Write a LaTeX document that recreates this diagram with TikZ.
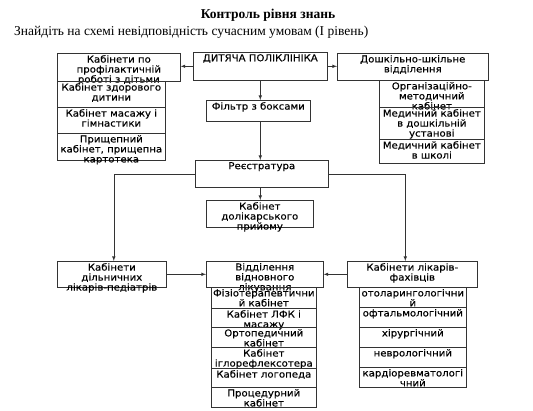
\documentclass[tikz,border=0pt]{standalone}
\usepackage{fontspec}
\setmainfont{Liberation Serif}
\newfontfamily\cabfont{DejaVu Sans}[FakeStretch=1.07, FakeBold=0.4]
\usetikzlibrary{arrows,positioning}
\tikzset
{
    cab/.style     = {draw=black!80, line width=0.6pt, anchor=north west, inner sep=0pt},
    cabtext/.style = {anchor=north, align=center, inner sep=2pt, font={\cabfont\fontsize{9.5}{10}\selectfont}},
    link/.style    = {draw=black!80, line width=0.6pt, -latex}
}
\begin{document}
\begin{tikzpicture}[x=1pt, y=-1pt]
\useasboundingbox (0,0) rectangle (533,410);
\node[font={\bfseries\fontsize{13.5}{15}\selectfont}] (title) at (268,15) {Контроль рівня знань};
\node[anchor=west, inner sep=0pt, font={\fontsize{13.5}{15}\selectfont}] (task) at (14,32) {Знайдіть на схемі невідповідність сучасним умовам (І рівень)};
% main chain
\node[cab, minimum width=134pt, minimum height=28pt] (dp) at (193,52) {};
\node[cabtext] (dp-t) at (dp.north) {ДИТЯЧА ПОЛІКЛІНІКА};
\node[cab, minimum width=104pt, minimum height=21pt] (filtr) at (206,100) {};
\node[cabtext] (filtr-t) at (filtr.north) {Фільтр з боксами};
\node[cab, minimum width=133pt, minimum height=27pt] (reestr) at (195,160) {};
\node[cabtext] (reestr-t) at (reestr.north) {Реєстратура};
\node[cab, minimum width=107pt, minimum height=27pt] (dolik) at (206,200) {};
\node[cabtext] (dolik-t) at (dolik.north) {Кабінет\\долікарського\\прийому};
% left column
\node[cab, minimum width=123pt, minimum height=28pt] (prof) at (57,53) {};
\node[cabtext] (prof-t) at (prof.north) {Кабінети по\\профілактичній\\роботі з дітьми};
\node[cab, minimum width=108pt, minimum height=26pt] (zdor) at (57,81) {};
\node[cabtext] (zdor-t) at (zdor.north) {Кабінет здорового\\дитини};
\node[cab, minimum width=108pt, minimum height=26pt] (masazh) at (57,107) {};
\node[cabtext] (masazh-t) at (masazh.north) {Кабінет масажу і\\гімнастики};
\node[cab, minimum width=108pt, minimum height=27pt] (shchep) at (57,133) {};
\node[cabtext] (shchep-t) at (shchep.north) {Прищепний\\кабінет, прищепна\\картотека};
% right column
\node[cab, minimum width=151pt, minimum height=27pt] (doshk) at (337,53) {};
\node[cabtext] (doshk-t) at (doshk.north) {Дошкільно-шкільне\\відділення};
\node[cab, minimum width=105pt, minimum height=27pt] (orgmet) at (379,80) {};
\node[cabtext] (orgmet-t) at (orgmet.north) {Організаційно-\\методичний\\кабінет};
\node[cab, minimum width=105pt, minimum height=32pt] (meddosh) at (379,107) {};
\node[cabtext] (meddosh-t) at (meddosh.north) {Медичний кабінет\\в дошкільній\\установі};
\node[cab, minimum width=105pt, minimum height=24pt] (medshk) at (379,139) {};
\node[cabtext] (medshk-t) at (medshk.north) {Медичний кабінет\\в школі};
% bottom row
\node[cab, minimum width=109pt, minimum height=26pt] (dilnych) at (57,261) {};
\node[cabtext] (dilnych-t) at (dilnych.north) {Кабінети\\дільничних\\лікарів-педіатрів};
\node[cab, minimum width=117pt, minimum height=26pt] (viddil) at (206,261) {};
\node[cabtext] (viddil-t) at (viddil.north) {Відділення\\відновного\\лікування};
\node[cab, minimum width=105pt, minimum height=21pt] (fiz) at (211,287) {};
\node[cabtext] (fiz-t) at (fiz.north) {Фізіотерапевтични\\й кабінет};
\node[cab, minimum width=105pt, minimum height=19pt] (lfk) at (211,308) {};
\node[cabtext] (lfk-t) at (lfk.north) {Кабінет ЛФК і\\масажу};
\node[cab, minimum width=105pt, minimum height=20pt] (ortop) at (211,327) {};
\node[cabtext] (ortop-t) at (ortop.north) {Ортопедичний\\кабінет};
\node[cab, minimum width=105pt, minimum height=21pt] (iglo) at (211,347) {};
\node[cabtext] (iglo-t) at (iglo.north) {Кабінет\\іглорефлексотера};
\node[cab, minimum width=105pt, minimum height=19pt] (logo) at (211,368) {};
\node[cabtext] (logo-t) at (logo.north) {Кабінет логопеда};
\node[cab, minimum width=105pt, minimum height=20pt] (proc) at (211,387) {};
\node[cabtext] (proc-t) at (proc.north) {Процедурний\\кабінет};
\node[cab, minimum width=130pt, minimum height=26pt] (fakh) at (347,261) {};
\node[cabtext] (fakh-t) at (fakh.north) {Кабінети лікарів-\\фахівців};
\node[cab, minimum width=107pt, minimum height=20pt] (oto) at (359,287) {};
\node[cabtext] (oto-t) at (oto.north) {отоларингологічни\\й};
\node[cab, minimum width=107pt, minimum height=20pt] (oft) at (359,307) {};
\node[cabtext] (oft-t) at (oft.north) {офтальмологічний};
\node[cab, minimum width=107pt, minimum height=20pt] (khir) at (359,327) {};
\node[cabtext] (khir-t) at (khir.north) {хірургічний};
\node[cab, minimum width=107pt, minimum height=20pt] (nevr) at (359,347) {};
\node[cabtext] (nevr-t) at (nevr.north) {неврологічний};
\node[cab, minimum width=107pt, minimum height=20pt] (kard) at (359,367) {};
\node[cabtext] (kard-t) at (kard.north) {кардіоревматологі\\чний};
% connectors
\draw[link] (dp.west) -- (dp.west -| prof.east);
\draw[link] (dp.east) -- (dp.east -| doshk.west);
\draw[link] (dp.south) -- (dp.south |- filtr.north);
\draw[link] (filtr.south -| dp.south) -- (dp.south |- reestr.north);
\draw[link] (reestr.south -| dp.south) -- (dp.south |- dolik.north);
\draw[link] (reestr.west) -| ([xshift=2pt]dilnych.north);
\draw[link] (reestr.east) -| ([xshift=-7pt]fakh.north);
\draw[link] (dilnych.east) -- (dilnych.east -| viddil.west);
\draw[link] (fakh.west) -- (fakh.west -| viddil.east);
\end{tikzpicture}
\end{document}
